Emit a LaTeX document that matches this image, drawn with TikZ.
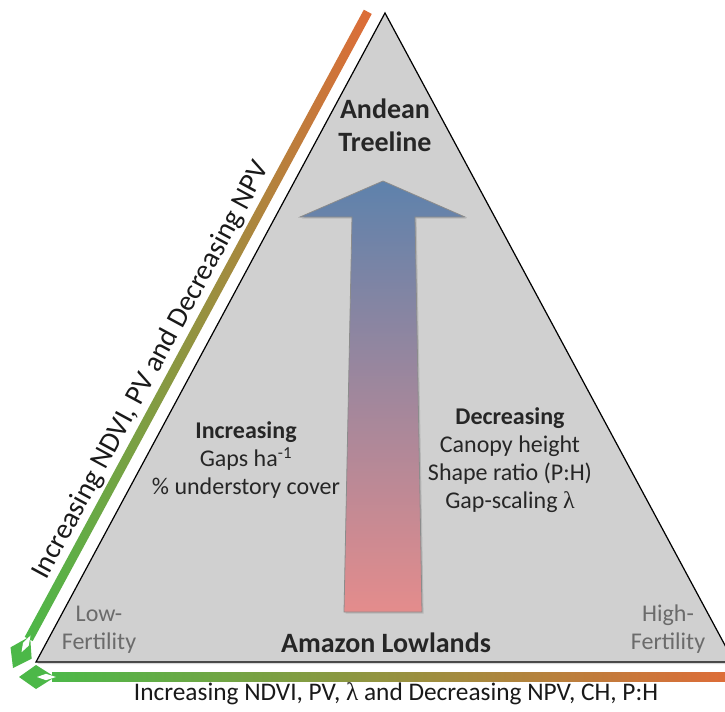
\documentclass[tikz,border=0pt]{standalone}
\usepackage{fontspec}
\setmainfont{Carlito}
\newfontfamily\symfont{Liberation Serif}
\newcommand{\lamsym}{{\symfont λ}}
\usetikzlibrary{shadows}

\definecolor{barGreen}{RGB}{76,184,72}
\definecolor{barOrange}{RGB}{222,108,56}
\definecolor{arrowBlue}{RGB}{94,130,172}
\definecolor{arrowPink}{RGB}{228,140,140}
\definecolor{pyramidGray}{RGB}{208,208,208}
\definecolor{inkGray}{RGB}{38,38,38}

\begin{document}
\begin{tikzpicture}[
    x=0.75pt, y=-0.75pt,
    every node/.style={font=\fontsize{18}{21}\selectfont, text=inkGray, align=center},
    heading/.style={font=\fontsize{21}{24.5}\selectfont\bfseries},
    corner/.style={text=black!58},
    caption/.style={anchor=base, text=black!90},
    pyramid/.style={fill=pyramidGray, draw=black, line width=0.9pt,
        drop shadow={shadow xshift=1.2pt, shadow yshift=-1.5pt, opacity=0.3}},
    upshaft/.style={top color=arrowBlue, bottom color=arrowPink, draw=black!45, line width=0.6pt,
        drop shadow={shadow xshift=1.2pt, shadow yshift=-1.2pt, opacity=0.3}},
    gradbar/.style={left color=barGreen, right color=barOrange},
    tiphead/.style={fill=barGreen}
]
\useasboundingbox (0,0) rectangle (725,711);
\clip (0,0) rectangle (725,711);

% Pyramid
\coordinate (apex) at (385,13);
\coordinate (lowleft) at (36,662);
\coordinate (lowright) at (734,662);
\path[pyramid] (lowleft) -- (apex) -- (lowright) -- cycle;

% Left gradient bar (along the slope)
\begin{scope}[shift={(13,668)}, rotate=61.6]
  \shade[gradbar] (33,-4.5) rectangle (746,4.5);
  \fill[tiphead] (0,0) -- (17,-12) -- (36,0) -- (17,12) -- cycle;
  \fill[white] (18,0) -- (27,-3.2) -- (37,0) -- (27,3.2) -- cycle;
\end{scope}

% Bottom gradient bar
\begin{scope}[shift={(19,677)}]
  \shade[gradbar] (33,-4.5) rectangle (712,4.5);
  \fill[tiphead] (0,0) -- (17,-12) -- (36,0) -- (17,12) -- cycle;
  \fill[white] (18,0) -- (27,-3.2) -- (37,0) -- (27,3.2) -- cycle;
\end{scope}

% Central arrow
\path[upshaft] (344,612) -- (352,217) -- (300,217) -- (383,181) -- (465,217)
    -- (415,217) -- (422,612) -- cycle;

% Labels
\node[heading] (treeline) at (385,125) {Andean\\Treeline};
\node[heading, anchor=base] (lowlands) at (386,652) {Amazon Lowlands};
\node (incr) at (246,460) {\textbf{Increasing}\\Gaps ha\textsuperscript{-1}\\\% understory cover};
\node (decr) at (510,460) {\textbf{Decreasing}\\Canopy height\\Shape ratio (P:H)\\Gap-scaling \lamsym};
\node[corner] (lowfert) at (99,630) {Low-\\Fertility};
\node[corner] (highfert) at (668,629) {High-\\Fertility};

% Axis captions
\node[caption, rotate=61.6, font=\fontsize{21.5}{25}\selectfont] (slopecap)
    at (158,374) {Increasing NDVI, PV and Decreasing NPV};
\node[caption, font=\fontsize{19}{22}\selectfont] (basecap) at (396,700)
    {Increasing NDVI, PV, \lamsym{} and Decreasing NPV, CH, P:H};

\end{tikzpicture}
\end{document}
